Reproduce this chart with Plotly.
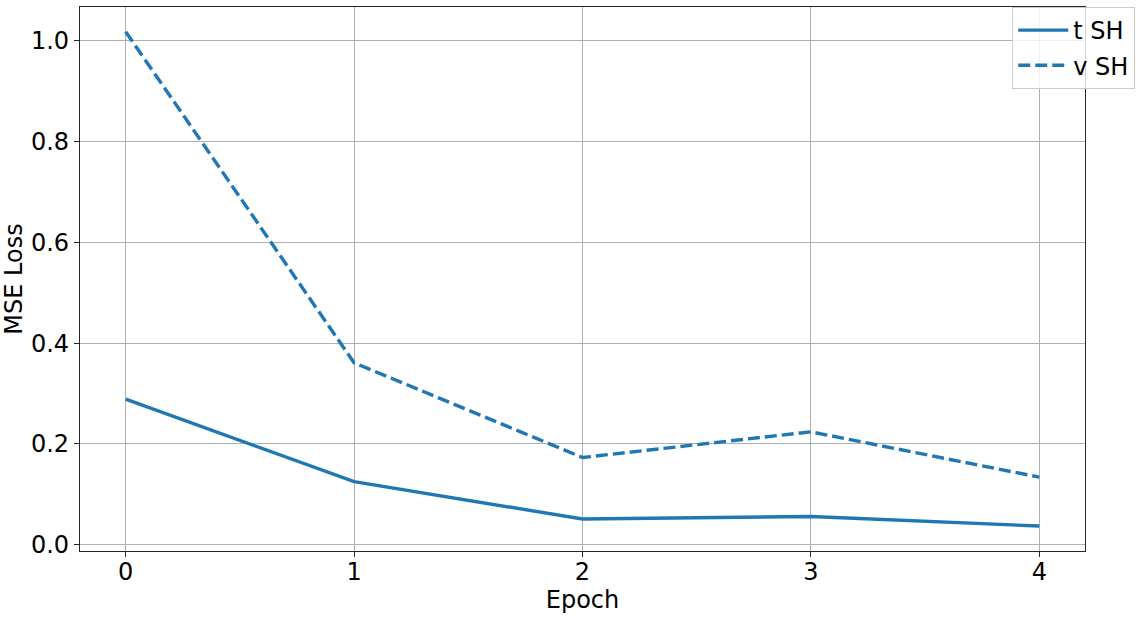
import plotly.graph_objects as go

epochs = [0, 1, 2, 3, 4]
t_sh = [0.289, 0.125, 0.051, 0.056, 0.037]
v_sh = [1.018, 0.361, 0.173, 0.224, 0.134]
y_ticks = [0.0, 0.2, 0.4, 0.6, 0.8, 1.0]

color = "#1f77b4"
fig = go.Figure()
fig.add_trace(go.Scatter(x=epochs, y=t_sh, mode="lines", name="t SH", legendgroup="a",
                         line=dict(color=color, width=3.4)))
fig.add_trace(go.Scatter(x=epochs, y=v_sh, mode="lines", name="v SH", legendgroup="b",
                         line=dict(color=color, width=3.4, dash="12px,5px")))

axis_common = dict(showline=True, linecolor="#262626", linewidth=1.2, mirror=True,
                   ticks="outside", ticklen=5, tickcolor="#262626",
                   showgrid=True, gridcolor="#b0b0b0", gridwidth=1,
                   zeroline=False, automargin=False,
                   tickfont=dict(size=24, color="black"))

fig.update_layout(
    width=1142, height=617,
    margin=dict(l=80, r=57, t=7, b=66, autoexpand=False),
    paper_bgcolor="white", plot_bgcolor="white",
    font=dict(family="DejaVu Sans", color="black"),
    xaxis=dict(range=[-0.2, 4.2], tickvals=epochs, ticktext=[str(e) for e in epochs],
               ticklabelstandoff=-6,
               title=dict(text="Epoch", font=dict(size=24), standoff=4), **axis_common),
    yaxis=dict(range=[-0.0125, 1.067], tickvals=y_ticks, tickformat=".1f",
               title=dict(text="MSE Loss", font=dict(size=24), standoff=8), **axis_common),
    legend=dict(x=1.05, xanchor="right", y=1.0, yanchor="top",
                bgcolor="rgba(255,255,255,0.8)", bordercolor="#cccccc", borderwidth=1,
                font=dict(size=24), itemwidth=50, tracegroupgap=1),
    showlegend=True,
)

fig.write_html("out.html", config={"displayModeBar": False},
               post_script="document.body.style.margin='0';")
